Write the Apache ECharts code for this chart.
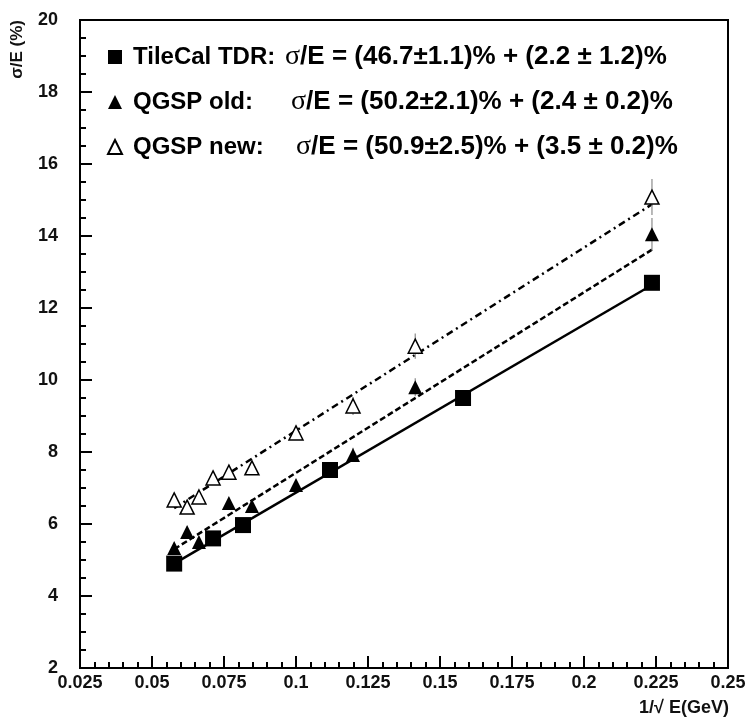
<!DOCTYPE html>
<html>
<head>
<meta charset="utf-8">
<script src="https://cdn.jsdelivr.net/npm/echarts@6/dist/echarts.min.js"></script>
<style>
  html, body { margin: 0; padding: 0; background: #fff; }
  #chart { width: 749px; height: 720px; }
</style>
</head>
<body>
<div id="chart"></div>
<script>
// TileCal TDR (squares)
var tileX = [0.0577, 0.0712, 0.0816, 0.1118, 0.158, 0.2236]
var tileY = [4.9, 5.6, 5.97, 7.5, 9.5, 12.7]
// QGSP old (filled triangles)
var oldX = [0.0577, 0.0622, 0.0663, 0.0767, 0.0847, 0.1, 0.1198, 0.1414, 0.2236]
var oldY = [5.33, 5.78, 5.5, 6.58, 6.5, 7.08, 7.92, 9.8, 14.05]
var oldErr = [0.15, 0.15, 0.15, 0.15, 0.15, 0.15, 0.2, 0.25, 0.45]
// QGSP new (open triangles)
var newX = [0.0577, 0.0622, 0.0663, 0.0712, 0.0767, 0.0847, 0.1, 0.1198, 0.1414, 0.2236]
var newY = [6.67, 6.47, 6.75, 7.28, 7.44, 7.56, 8.53, 9.28, 10.94, 15.08]
var newErr = [0.1, 0.1, 0.1, 0.15, 0.15, 0.15, 0.2, 0.25, 0.35, 0.5]
// fit line end points
var tileFit = [[0.0577, 4.9], [0.2236, 12.64]]
var oldFit = [[0.0577, 5.3], [0.2236, 13.62]]
var newFit = [[0.0577, 6.44], [0.2236, 14.88]]

var names = ['TileCal TDR', 'QGSP old', 'QGSP new']
var legendLabels = ['TileCal TDR:', 'QGSP old:', 'QGSP new:']
var formulas = [
  '/E = (46.7±1.1)% + (2.2 ± 1.2)%',
  '/E = (50.2±2.1)% + (2.4 ± 0.2)%',
  '/E = (50.9±2.5)% + (3.5 ± 0.2)%'
]

var FONT = '"Liberation Sans", Arial, sans-serif'
var SERIF = '"Liberation Serif", "Times New Roman", serif'

function pairs(xs, ys) {
  return xs.map(function(x, i) { return [x, ys[i]] })
}
function errPairs(xs, ys, es) {
  return xs.map(function(x, i) { return [x, ys[i] - es[i], ys[i] + es[i]] })
}

var chart = echarts.init(document.getElementById('chart'))

function errorBars(data) {
  return {
    type: 'custom',
    silent: true,
    z: 3,
    renderItem: function(params, api) {
      var lo = api.coord([api.value(0), api.value(1)])
      var hi = api.coord([api.value(0), api.value(2)])
      return {
        type: 'line',
        shape: { x1: lo[0], y1: lo[1], x2: hi[0], y2: hi[1] },
        style: { stroke: '#8a8a8a', lineWidth: 1.2 }
      }
    },
    encode: { x: 0, y: [1, 2] },
    data: data
  }
}

function fitLine(data, type) {
  return {
    type: 'line',
    data: data,
    symbol: 'none',
    silent: true,
    z: 2,
    lineStyle: { color: '#000', width: 2.5, type: type }
  }
}

function labelStyle(w) {
  return { width: w, padding: [0, 0, 0, 6], fontFamily: FONT, fontWeight: 'bold', fontSize: 24, color: '#000' }
}

chart.setOption({
  animation: false,
  grid: {
    left: 80, right: 21, top: 20, bottom: 52,
    show: true, borderColor: '#000', borderWidth: 2
  },
  legend: {
    orient: 'vertical',
    left: 102,
    top: 38,
    itemGap: 17,
    itemWidth: 14,
    itemHeight: 14,
    selectedMode: false,
    data: names,
    formatter: function(name) {
      var i = names.indexOf(name)
      return '{a' + i + '|' + legendLabels[i] + '}{s|σ}{b|' + formulas[i] + '}'
    },
    textStyle: {
      fontFamily: FONT,
      fontWeight: 'bold',
      fontSize: 24,
      color: '#000',
      rich: {
        a0: labelStyle(152),
        a1: labelStyle(158),
        a2: labelStyle(163),
        s: { fontFamily: SERIF, fontWeight: 'normal', fontSize: 28, color: '#000' },
        b: { fontFamily: FONT, fontWeight: 'bold', fontSize: 26, color: '#000' }
      }
    }
  },
  xAxis: {
    type: 'value',
    min: 0.025,
    max: 0.25,
    interval: 0.025,
    axisLine: { lineStyle: { color: '#000', width: 2 } },
    axisTick: { inside: true, length: 12, lineStyle: { color: '#000', width: 2 } },
    minorTick: { show: true, splitNumber: 5, length: 6, lineStyle: { color: '#000', width: 2 } },
    splitLine: { show: false },
    axisLabel: {
      margin: 6,
      fontFamily: FONT,
      fontWeight: 'bold',
      fontSize: 18,
      color: '#111',
      formatter: function(v) { return +v.toFixed(3) + '' }
    }
  },
  yAxis: {
    type: 'value',
    min: 2,
    max: 20,
    interval: 2,
    axisLine: { show: true, lineStyle: { color: '#000', width: 2 } },
    axisTick: { show: true, inside: true, length: 12, lineStyle: { color: '#000', width: 2 } },
    minorTick: { show: true, splitNumber: 4, length: 6, lineStyle: { color: '#000', width: 2 } },
    splitLine: { show: false },
    axisLabel: {
      margin: 22,
      fontFamily: FONT,
      fontWeight: 'bold',
      fontSize: 18,
      color: '#111'
    }
  },
  graphic: [
    {
      type: 'text',
      left: 9,
      top: 20,
      rotation: Math.PI / 2,
      style: { text: 'σ/E (%)', font: 'bold 17px ' + FONT, fill: '#111' }
    },
    {
      type: 'text',
      right: 20,
      top: 699,
      style: { text: '1/√ E(GeV)', font: 'bold 18px ' + FONT, fill: '#111' }
    }
  ],
  series: [
    fitLine(tileFit, 'solid'),
    fitLine(oldFit, [6, 3]),
    fitLine(newFit, [7, 4, 2, 4]),
    errorBars(errPairs(oldX, oldY, oldErr)),
    errorBars(errPairs(newX, newY, newErr)),
    {
      name: names[0],
      type: 'scatter',
      z: 5,
      symbol: 'rect',
      symbolSize: 16,
      itemStyle: { color: '#000', opacity: 1 },
      data: pairs(tileX, tileY)
    },
    {
      name: names[1],
      type: 'scatter',
      z: 5,
      symbol: 'triangle',
      symbolSize: 14,
      itemStyle: { color: '#000', opacity: 1 },
      data: pairs(oldX, oldY)
    },
    {
      name: names[2],
      type: 'scatter',
      z: 5,
      symbol: 'triangle',
      symbolSize: 14,
      itemStyle: { color: '#fff', borderColor: '#000', borderWidth: 1.5, opacity: 1 },
      data: pairs(newX, newY)
    }
  ]
})
</script>
</body>
</html>
